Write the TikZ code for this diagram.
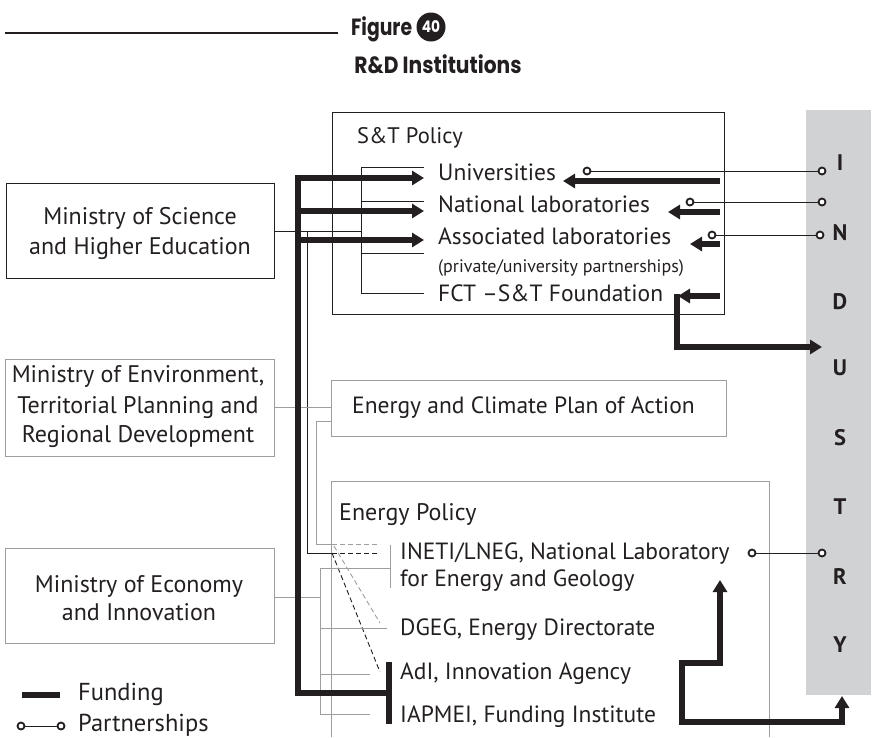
\documentclass[tikz,border=0pt]{standalone}
\usepackage{fontspec}
\setmainfont{PT Sans}
\newfontfamily\titlefont[FakeStretch=0.86]{Poppins}
\newfontfamily\figfont[FakeStretch=0.8]{Poppins}
\usetikzlibrary{arrows.meta}
\definecolor{ink}{HTML}{231F20}
\definecolor{lgray}{HTML}{9E9E9E}
\definecolor{bargray}{HTML}{D1D2D4}
\tikzset{
  txt/.style={anchor=base west,inner sep=0pt,text=ink,font=\fontsize{23.5}{26}\selectfont},
  mtxt/.style={anchor=base,inner sep=0pt,text=ink,font=\fontsize{24}{26}\selectfont},
  thin/.style={draw=ink,line width=0.9pt},
  gthin/.style={draw=lgray,line width=0.9pt},
  fund/.style={draw=ink,line width=5.5pt},
  fundarrow/.style={fund,-{Triangle[length=12pt,width=14pt]}},
  part/.style={draw=ink,line width=0.9pt},
  pcirc/.style={circle,draw=ink,line width=1.8pt,fill=white,inner sep=0pt,minimum size=7pt},
  ind/.style={text=ink,inner sep=0pt,font=\bfseries\fontsize{22.5}{24}\selectfont},
}
\begin{document}
\begin{tikzpicture}[x=1pt,y=-1pt]
\useasboundingbox (0,0) rectangle (873,737);
% title
\coordinate (tl1) at (5,33); \coordinate (tl2) at (338,33);
\draw[ink,line width=2pt] (tl1) -- (tl2);
\node[anchor=base west,inner sep=0pt,text=ink,font=\figfont\bfseries\fontsize{23.5}{26}\selectfont] (fig) at (351,35) {Figure};
\node[circle,fill=ink,minimum size=29pt,inner sep=0pt,text=white,font=\titlefont\bfseries\fontsize{16}{18}\selectfont] (num) at (431,27) {40};
\node[anchor=base,inner sep=0pt,text=ink,font=\titlefont\bfseries\fontsize{23.5}{26}\selectfont] (ttl) at (438,73) {R\&D Institutions};
% industry bar
\fill[bargray] (806,110) rectangle (871,695);
\foreach \l/\y/\n in {I/163/i1,N/233/i2,D/302/i3,U/368/i4,S/438/i5,T/507/i6,R/577/i7,Y/645/i8}
  \node[ind] (\n) at (840,\y) {\l};
% boxes
\node[draw=ink,line width=0.9pt,minimum width=392pt,minimum height=202pt,anchor=north west,inner sep=0pt] (stbox) at (332,112) {};
\node[draw=ink,line width=0.9pt,minimum width=268pt,minimum height=95pt,anchor=north west,inner sep=0pt] (msci) at (6,183) {};
\node[mtxt] (msci1) at (140,224) {Ministry of Science};
\node[mtxt] (msci2) at (140,254) {and Higher Education};
\node[draw=lgray,line width=0.9pt,minimum width=269pt,minimum height=97pt,anchor=north west,inner sep=0pt] (menv) at (5,359) {};
\node[mtxt] (menv1) at (138,382) {Ministry of Environment,};
\node[mtxt] (menv2) at (138,413) {Territorial Planning and};
\node[mtxt] (menv3) at (138,442) {Regional Development};
\node[draw=lgray,line width=0.9pt,minimum width=269pt,minimum height=95pt,anchor=north west,inner sep=0pt] (meco) at (5,548) {};
\node[mtxt] (meco1) at (139,592) {Ministry of Economy};
\node[mtxt] (meco2) at (139,620) {and Innovation};
\node[draw=lgray,line width=0.9pt,minimum width=395pt,minimum height=56pt,anchor=north west,inner sep=0pt] (eclim) at (331,380) {};
\node[txt] (eclimt) at (352,413) {Energy and Climate Plan of Action};
\coordinate (ep1) at (331,737); \coordinate (ep2) at (331,481);
\coordinate (ep3) at (769,481); \coordinate (ep4) at (769,737);
\draw[gthin] (ep1) -- (ep2) -- (ep3) -- (ep4);
\node[txt,font=\fontsize{24}{26}\selectfont] (epolt) at (339,520) {Energy Policy};
% S&T texts
\node[txt,font=\fontsize{22.5}{25}\selectfont] (stp) at (357,143) {S\&T Policy};
\node[txt] (uni) at (438,180) {Universities};
\node[txt] (nat) at (438,212) {National laboratories};
\node[txt] (ass) at (438,244) {Associated laboratories};
\node[txt,font=\fontsize{18}{20}\selectfont] (priv) at (438,272) {(private/university partnerships)};
\node[txt] (fct) at (438,301) {FCT \textendash S\&T Foundation};
% energy texts
\node[txt] (ineti) at (400,559) {INETI/LNEG, National Laboratory};
\node[txt] (ineti2) at (400,586) {for Energy and Geology};
\node[txt] (dgeg) at (400,635) {DGEG, Energy Directorate};
\node[txt] (adi) at (400,679) {AdI, Innovation Agency};
\node[txt] (iap) at (400,722) {IAPMEI, Funding Institute};
% thin black connectors
\draw[thin] (msci.east |- 0,231) -- (361,231);
\draw[thin] (424,167) -- (361,167) -- (361,293) -- (424,293);
\draw[thin] (361,201) -- (424,201);
\draw[thin] (361,253) -- (424,253);
\draw[thin] (307,231) -- (307,553) -- (332,553);
\draw[thin,dash pattern=on 5pt off 3pt] (332,553) -- (380,553);
\draw[thin,dash pattern=on 5pt off 3pt] (332,553) -- (380,672);
% gray connectors
\draw[gthin] (menv.east |- 0,407) -- (eclim.west |- 0,407);
\draw[gthin] (eclim.west |- 0,421) -- (316,421) -- (316,544) -- (332,544);
\draw[gthin,dash pattern=on 5pt off 3pt] (332,544) -- (380,544);
\draw[gthin,dash pattern=on 5pt off 3pt] (334,546) -- (380,623);
\draw[gthin] (390,545) -- (390,588);
\draw[gthin] (meco.east |- 0,597) -- (320,597);
\draw[gthin] (320,568) -- (320,714);
\draw[gthin] (320,568) -- (390,568);
\draw[gthin] (320,628) -- (387,628);
\draw[gthin] (320,674) -- (370,674);
\draw[gthin] (320,714) -- (370,714);
% funding
\draw[fundarrow] (389,693) -- (298,693) -- (298,178) -- (424,178);
\draw[fundarrow] (298,211) -- (424,211);
\draw[fundarrow] (298,240) -- (424,240);
\draw[fund] (389,662) -- (389,724);
\draw[fundarrow] (720,181) -- (563,181);
\draw[fundarrow] (720,212) -- (668,212);
\draw[fundarrow] (720,244) -- (690,244);
\draw[fundarrow] (720,296) -- (678,296);
\draw[fundarrow] (677,294) -- (677,347) -- (822,347);
\draw[fund,{Triangle[length=12pt,width=14pt]}-{Triangle[length=12pt,width=14pt]}] (720,580) -- (720,663) -- (682,663) -- (682,722) -- (842,722) -- (842,696);
% partnerships
\node[pcirc] (p1a) at (587,171) {}; \node[pcirc] (p1b) at (822,171) {};
\draw[part] (p1a) -- (p1b);
\node[pcirc] (p2a) at (690,202) {}; \node[pcirc] (p2b) at (822,202) {};
\draw[part] (p2a) -- (p2b);
\node[pcirc] (p3a) at (712,235) {}; \node[pcirc] (p3b) at (820,235) {};
\draw[part] (p3a) -- (p3b);
\node[pcirc] (p4a) at (752,553) {}; \node[pcirc] (p4b) at (822,553) {};
\draw[part] (p4a) -- (p4b);
% legend
\coordinate (lf1) at (22,695); \coordinate (lf2) at (60,695);
\draw[fund] (lf1) -- (lf2);
\node[txt,font=\fontsize{24.5}{26}\selectfont] (lfund) at (78,700) {Funding};
\node[pcirc] (lp1) at (21,726) {}; \node[pcirc] (lp2) at (61,726) {};
\draw[part] (lp1) -- (lp2);
\node[txt,font=\fontsize{24.5}{26}\selectfont] (lpart) at (78,731) {Partnerships};
\end{tikzpicture}
\end{document}
